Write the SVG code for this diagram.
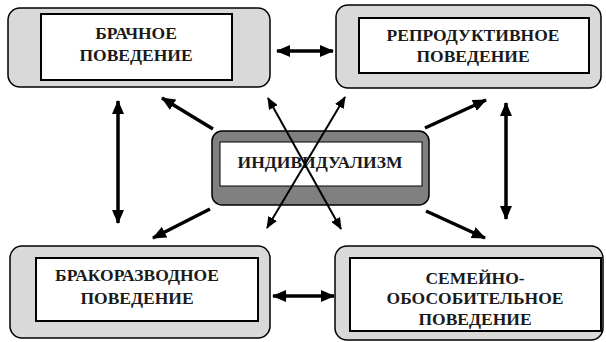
<svg xmlns="http://www.w3.org/2000/svg" width="606" height="342" viewBox="0 0 606 342">
<defs>
<marker id="ah" markerUnits="userSpaceOnUse" markerWidth="14" markerHeight="12" refX="13" refY="6" orient="auto-start-reverse">
<path d="M0,0 L14,6 L0,12 Z" fill="#000"/>
</marker>
<marker id="ahs" markerUnits="userSpaceOnUse" markerWidth="12" markerHeight="10" refX="11" refY="5" orient="auto-start-reverse">
<path d="M0,0 L12,5 L0,10 Z" fill="#000"/>
</marker>
</defs>
<style>
.outer{fill:#d9d9d9;stroke:#000;stroke-width:1.5}
.inner{fill:#fff;stroke:#000;stroke-width:2}
.t{font-family:'Liberation Serif','Times New Roman',serif;font-weight:bold;font-size:17.5px;text-anchor:middle;fill:#1a1a1a}
.thick{stroke:#000;stroke-width:3.5;fill:none}
.thin{stroke:#000;stroke-width:2;fill:none}
</style>
<rect width="606" height="342" fill="#fff"/>
<g id="connectors">
<line class="thick" x1="277" y1="51" x2="333" y2="51" marker-start="url(#ah)" marker-end="url(#ah)"/>
<line class="thick" x1="273" y1="296" x2="334" y2="296" marker-start="url(#ah)" marker-end="url(#ah)"/>
<line class="thick" x1="118" y1="101" x2="118" y2="223" marker-start="url(#ah)" marker-end="url(#ah)"/>
<line class="thick" x1="506" y1="103" x2="506" y2="219" marker-start="url(#ah)" marker-end="url(#ah)"/>
<line class="thick" x1="213" y1="129" x2="162" y2="98" marker-end="url(#ah)"/>
<line class="thick" x1="425" y1="128" x2="486" y2="100" marker-end="url(#ah)"/>
<line class="thick" x1="210" y1="209" x2="153" y2="238" marker-end="url(#ah)"/>
<line class="thick" x1="426" y1="211" x2="485" y2="238" marker-end="url(#ah)"/>
</g>
<g id="n-brachnoe">
<rect class="outer" x="8" y="8" width="262" height="79" rx="12"/>
<rect class="inner" x="41" y="14" width="191" height="66"/>
<text class="t" x="136" y="39">БРАЧНОЕ</text>
<text class="t" x="136" y="61">ПОВЕДЕНИЕ</text>
</g>
<g id="n-reprod">
<rect class="outer" x="336" y="5" width="265" height="83" rx="12"/>
<rect class="inner" x="359" y="18" width="230" height="55"/>
<text class="t" x="473" y="41">РЕПРОДУКТИВНОЕ</text>
<text class="t" x="473" y="62">ПОВЕДЕНИЕ</text>
</g>
<g id="n-brakorazv">
<rect class="outer" x="10" y="246" width="260" height="92" rx="12"/>
<rect class="inner" x="36" y="258" width="222" height="63"/>
<text class="t" x="137" y="281">БРАКОРАЗВОДНОЕ</text>
<text class="t" x="137" y="304">ПОВЕДЕНИЕ</text>
</g>
<g id="n-semeyno">
<rect class="outer" x="335" y="246" width="268" height="94" rx="12"/>
<rect class="inner" x="350" y="258" width="251" height="73"/>
<text class="t" x="475" y="284">СЕМЕЙНО-</text>
<text class="t" x="475" y="304">ОБОСОБИТЕЛЬНОЕ</text>
<text class="t" x="475" y="325">ПОВЕДЕНИЕ</text>
</g>
<g id="n-individ">
<rect x="212" y="131" width="217" height="74" rx="10" fill="#808080" stroke="#000" stroke-width="1.5"/>
<rect x="220" y="142" width="202" height="44" fill="#fff" stroke="#000" stroke-width="1"/>
<text class="t" x="320" y="168">ИНДИВИДУАЛИЗМ</text>
</g>
<g id="connectors-cross">
<line class="thin" x1="267" y1="228" x2="345" y2="97" marker-start="url(#ahs)" marker-end="url(#ahs)"/>
<line class="thin" x1="268" y1="98" x2="341" y2="229" marker-start="url(#ahs)" marker-end="url(#ahs)"/>
</g>
</svg>
